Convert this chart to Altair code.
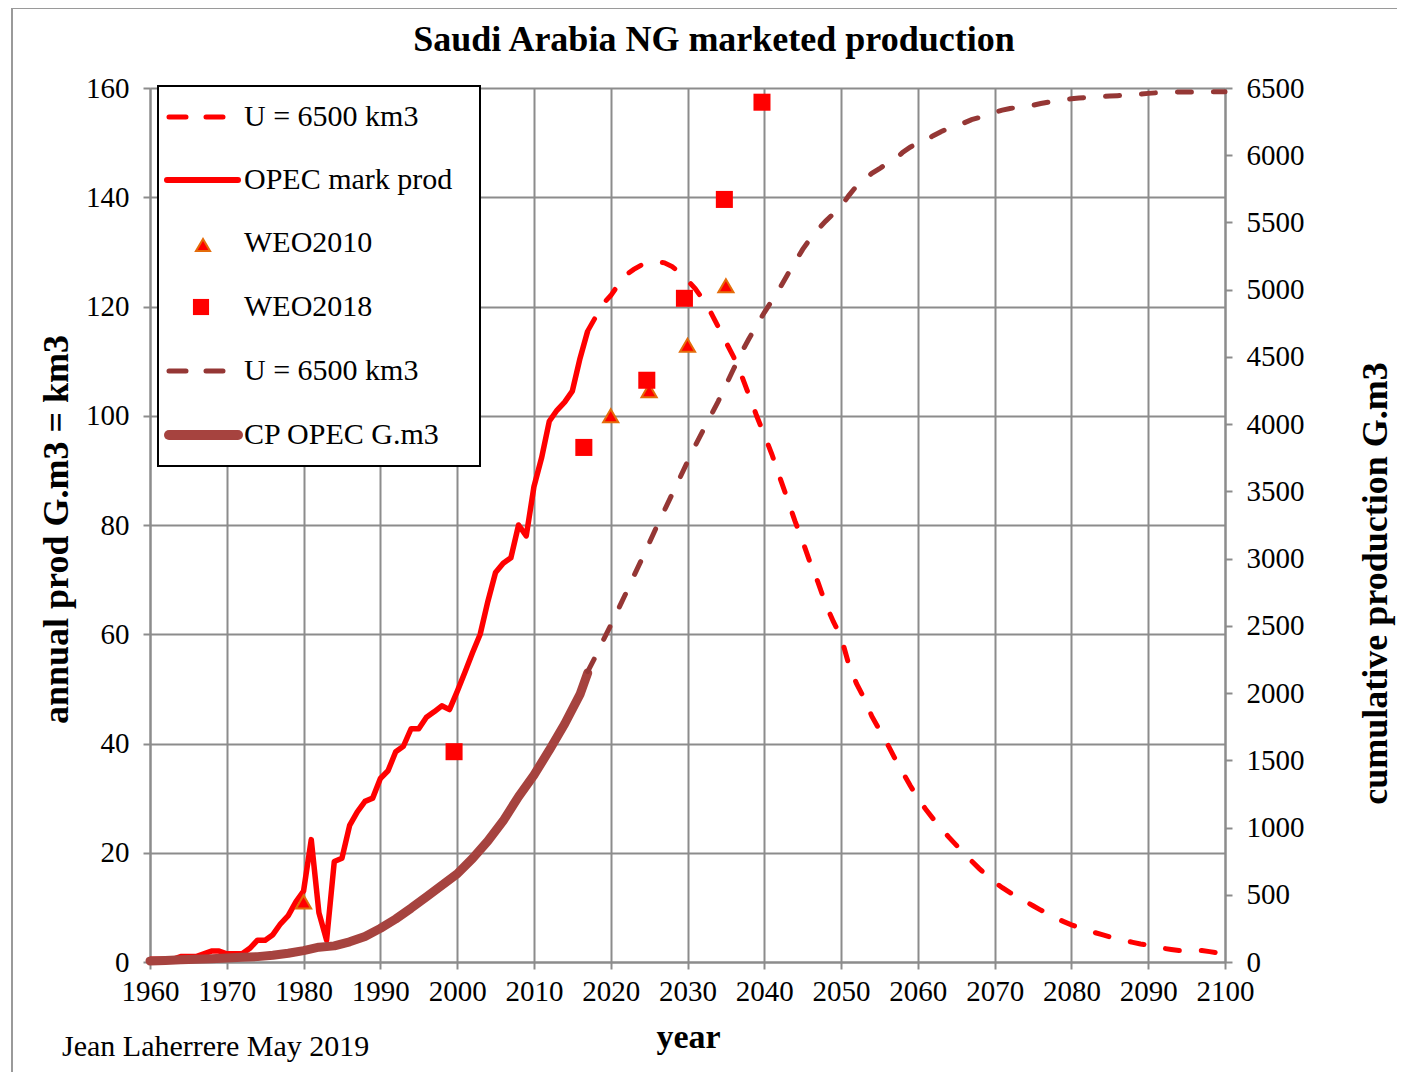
import altair as alt
import pandas as pd

# ---------------- data ----------------
hist_years = list(range(1960, 2018))
opec_prod = [0.5, 0.5, 0.5, 0.5, 1, 1, 1, 1.5, 2, 2,
             1.5, 1.5, 1.5, 2.5, 4, 4, 5, 7, 8.5, 11,
             13, 22.4, 9, 4, 18.4, 19, 25, 27.5, 29.4, 30,
             33.6, 35, 38.5, 39.5, 42.7, 42.7, 44.8, 45.8, 46.9, 46.2,
             49.5, 53, 56.6, 60, 66, 71.3, 73, 74, 80, 78,
             87, 92.3, 99, 101, 102.5, 104.5, 110.5, 115.5]

cp_years = [1960, 1962, 1964, 1966, 1968, 1970, 1972, 1974, 1976, 1978,
            1980, 1982, 1984, 1986, 1988, 1990, 1992, 1994, 1996, 1998,
            2000, 2002, 2004, 2006, 2008, 2010, 2012, 2014, 2016, 2017]
cp_opec = [8, 12, 16, 20, 25, 30, 35, 40, 50, 65,
           85, 110, 120, 150, 190, 250, 320, 400, 485, 570,
           655, 770, 900, 1050, 1230, 1390, 1575, 1770, 1990, 2150]

model_years = list(range(2017, 2101))
model_prod = [115.5, 118, 120.5, 122, 124, 125.8, 126.8, 127.6, 128, 128.2,
              128, 127.3, 126.2, 124.8, 123.3, 121.3, 119, 116.3, 113.5, 110.8,
              107.5, 103.8, 100, 96.5, 92.9, 88.8, 84.8, 80.7, 77, 73,
              69.5, 65.5, 62.3, 59.5, 54.5, 51, 48.3, 45, 42.5, 40,
              37.3, 34.8, 32.3, 30, 28, 26.2, 24.6, 22.9, 21.4, 19.9,
              18.5, 17.1, 15.8, 14.6, 13.6, 12.7, 11.9, 11.1, 10.3, 9.5,
              8.8, 8.0, 7.4, 6.8, 6.3, 5.9, 5.4, 5.0, 4.6, 4.2,
              3.9, 3.6, 3.3, 3.1, 3.0, 2.5, 2.3, 2.1, 2.1, 2.1,
              2.1, 1.9, 1.7, 1.5]
model_cum = [2160, 2270, 2390, 2505, 2625, 2745, 2870, 2990, 3115, 3240,
             3360, 3480, 3600, 3720, 3840, 3950, 4060, 4170, 4290, 4410,
             4530, 4635, 4735, 4830, 4920, 5010, 5110, 5205, 5300, 5380,
             5450, 5510, 5565, 5620, 5700, 5770, 5820, 5865, 5900, 5940,
             5970, 6020, 6060, 6090, 6110, 6145, 6175, 6200, 6220, 6240,
             6265, 6280, 6300, 6320, 6335, 6348, 6355, 6360, 6372, 6385,
             6395, 6405, 6413, 6420, 6425, 6430, 6432, 6436, 6440, 6443,
             6447, 6451, 6455, 6460, 6464, 6468, 6469, 6470, 6470, 6470,
             6471, 6471, 6472, 6472]

weo2010_years = [1980, 2020, 2025, 2030, 2035]
weo2010 = [11, 100, 104.6, 112.9, 123.8]

weo2018_years = [1999.6, 2016.5, 2024.7, 2029.6, 2034.8, 2039.7]
weo2018 = [38.5, 94.2, 106.5, 121.5, 139.6, 157.4]

x_ticks = list(range(1960, 2101, 10))
left_ticks = list(range(0, 161, 20))
right_ticks = list(range(0, 6501, 500))

legend_labels = ["U = 6500 km3", "OPEC mark prod", "WEO2010", "WEO2018",
                 "U = 6500 km3", "CP OPEC G.m3"]

# ---------------- styling ----------------
FONT = "Liberation Serif"
RED = "#FF0000"
BROWN_D = "#953735"
BROWN_T = "#A6433F"
ORANGE = "#E46C0A"
GRID = "#8c8c8c"
DASH = [14, 22]

W, H = 1075, 874

hist_df = pd.DataFrame({"year": hist_years, "v": opec_prod})
cp_df = pd.DataFrame({"year": cp_years, "v": cp_opec})
model_df = pd.DataFrame({"year": model_years, "v": model_prod})
mcum_df = pd.DataFrame({"year": model_years, "v": model_cum})
w10_df = pd.DataFrame({"year": weo2010_years, "v": weo2010})
w18_df = pd.DataFrame({"year": weo2018_years, "v": weo2018})
one = pd.DataFrame({"a": [0]})

xenc = alt.X("year:Q",
             scale=alt.Scale(domain=[1960, 2100], nice=False, zero=False),
             axis=alt.Axis(values=x_ticks, format="d", grid=True, gridColor=GRID,
                           gridWidth=2, domainColor=GRID, domainWidth=2,
                           tickColor=GRID, tickWidth=2, tickSize=7,
                           labelOverlap=False, labelFlush=False,
                           labelPadding=8, labelFontSize=29, labelColor="black",
                           labelFont=FONT, title="year", titleFont=FONT,
                           titleFontSize=34, titleFontWeight="bold",
                           titleX=538, titleY=85, titleBaseline="alphabetic",
                           titleAlign="center", titleColor="black"))

yleft = alt.Y("v:Q",
              scale=alt.Scale(domain=[0, 160], nice=False),
              axis=alt.Axis(values=left_ticks, format="d", grid=True, gridColor=GRID,
                            gridWidth=2, domainColor=GRID, domainWidth=2,
                            tickColor=GRID, tickWidth=2, tickSize=7,
                            labelOverlap=False, labelFlush=False,
                            labelPadding=14, labelFontSize=29, labelColor="black",
                            labelFont=FONT, title="annual prod G.m3 = km3",
                            titleFont=FONT, titleFontSize=36,
                            titleFontWeight="bold", titleAngle=270,
                            titleX=-94, titleY=441, titleAlign="center",
                            titleBaseline="middle", titleColor="black"))

yright = alt.Y("v:Q",
               scale=alt.Scale(domain=[0, 6500], nice=False),
               axis=alt.Axis(orient="right", values=right_ticks, format="d", grid=False,
                             domainColor=GRID, domainWidth=2,
                             tickColor=GRID, tickWidth=2, tickSize=7,
                             labelOverlap=False, labelFlush=False,
                             labelPadding=14, labelFontSize=29,
                             labelColor="black", labelFont=FONT,
                             title="cumulative production G.m3",
                             titleFont=FONT, titleFontSize=36,
                             titleFontWeight="bold", titleAngle=270,
                             titleX=150, titleY=495, titleAlign="center",
                             titleBaseline="middle", titleColor="black"))

opec_line = alt.Chart(hist_df).mark_line(color=RED, strokeWidth=5.5,
                                         strokeJoin="round").encode(x=xenc, y=yleft)
model_line = alt.Chart(model_df).mark_line(color=RED, strokeWidth=5, strokeDash=DASH,
                                           strokeCap="round").encode(x=xenc, y=yleft)
w10_pts = alt.Chart(w10_df).mark_point(shape="triangle-up", filled=True, fill=RED,
                                       stroke=ORANGE, strokeWidth=2, size=230,
                                       opacity=1).encode(x=xenc, y=yleft)
w18_pts = alt.Chart(w18_df).mark_square(color=RED, size=290,
                                        opacity=1).encode(x=xenc, y=yleft)
left_layer = alt.layer(opec_line, model_line, w10_pts, w18_pts)

cp_line = alt.Chart(cp_df).mark_line(color=BROWN_T, strokeWidth=9, strokeCap="round",
                                     strokeJoin="round").encode(x=xenc, y=yright)
mcum_line = alt.Chart(mcum_df).mark_line(color=BROWN_D, strokeWidth=5, strokeDash=DASH,
                                         strokeCap="round").encode(x=xenc, y=yright)
right_layer = alt.layer(cp_line, mcum_line)

# outer frame
frame = alt.Chart(one).mark_rect(fillOpacity=0, stroke="#9a9a9a", strokeWidth=2).encode(
    x=alt.value(-138), x2=alt.value(1262), y=alt.value(-80), y2=alt.value(1010))

# legend (manual box)
leg_box = alt.Chart(one).mark_rect(fill="white", stroke="black", strokeWidth=2).encode(
    x=alt.value(8), x2=alt.value(330), y=alt.value(-2), y2=alt.value(378))
rows = [29, 92, 155, 219, 283, 347]
leg = [leg_box]
leg.append(alt.Chart(one).mark_rule(color=RED, strokeWidth=5, strokeDash=[17, 20],
                                    strokeCap="round").encode(
    x=alt.value(19), x2=alt.value(76), y=alt.value(rows[0])))
leg.append(alt.Chart(one).mark_rule(color=RED, strokeWidth=6, strokeCap="round").encode(
    x=alt.value(17), x2=alt.value(88), y=alt.value(rows[1])))
leg.append(alt.Chart(one).mark_point(shape="triangle-up", filled=True, fill=RED,
                                     stroke=ORANGE, strokeWidth=2, size=200,
                                     opacity=1).encode(
    x=alt.value(53), y=alt.value(rows[2] + 2)))
leg.append(alt.Chart(one).mark_square(color=RED, size=260, opacity=1).encode(
    x=alt.value(51), y=alt.value(rows[3])))
leg.append(alt.Chart(one).mark_rule(color=BROWN_D, strokeWidth=5, strokeDash=[17, 20],
                                    strokeCap="round").encode(
    x=alt.value(19), x2=alt.value(76), y=alt.value(rows[4])))
leg.append(alt.Chart(one).mark_rule(color=BROWN_T, strokeWidth=10, strokeCap="round").encode(
    x=alt.value(19), x2=alt.value(88), y=alt.value(rows[5])))
for lab, ry in zip(legend_labels, rows):
    leg.append(alt.Chart(one).mark_text(text=lab, align="left", baseline="middle",
                                        font=FONT, fontSize=30, color="black").encode(
        x=alt.value(94), y=alt.value(ry)))

title_txt = alt.Chart(one).mark_text(text="Saudi Arabia NG marketed production",
                                     align="center", baseline="alphabetic", font=FONT,
                                     fontSize=36, fontWeight="bold", color="black").encode(
    x=alt.value(564), y=alt.value(-37))
foot_txt = alt.Chart(one).mark_text(text="Jean Laherrere May 2019", align="left",
                                    baseline="alphabetic", font=FONT, fontSize=30,
                                    color="black").encode(
    x=alt.value(-88), y=alt.value(968))

chart = alt.layer(frame, left_layer, right_layer, *leg, title_txt, foot_txt).resolve_scale(
    y="independent"
).properties(
    width=W, height=H, autosize="none",
    padding={"left": 142, "top": 80, "right": 172, "bottom": 110},
).configure_view(stroke=None).configure(font=FONT, background="white")

chart.save("out.html", embed_options={"renderer": "svg", "actions": False})
